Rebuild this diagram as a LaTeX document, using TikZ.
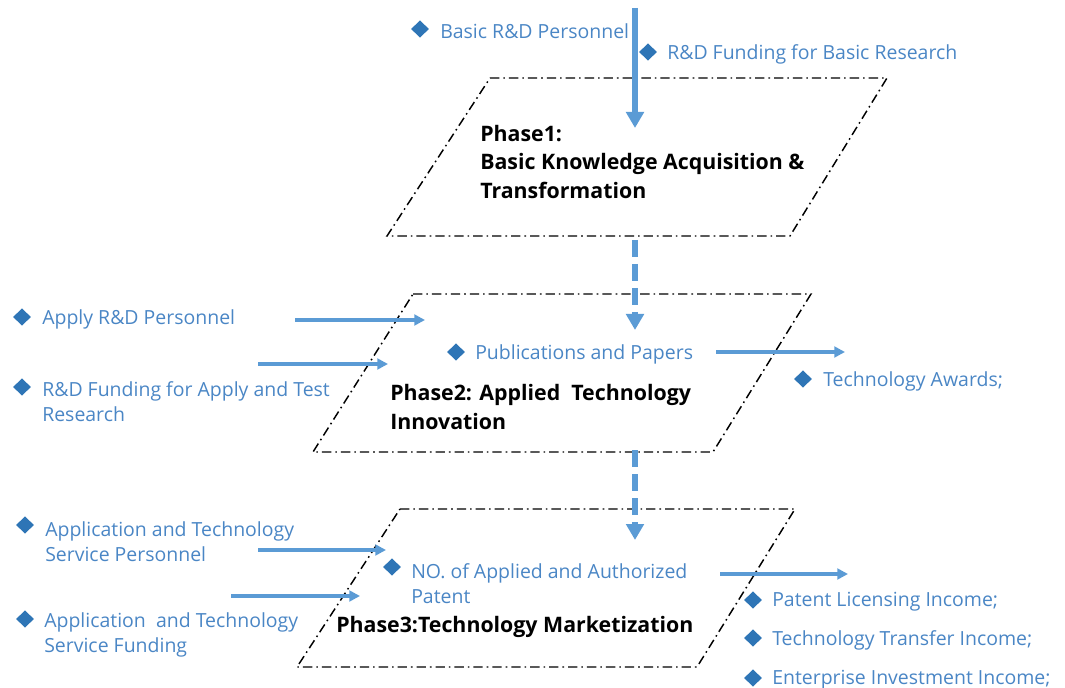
\documentclass[tikz,border=0pt]{standalone}
\usepackage{fontspec}
\setmainfont{Open Sans}
\usetikzlibrary{arrows.meta,shapes.geometric,positioning}
\definecolor{lblblue}{HTML}{4A86C5}
\definecolor{diablue}{HTML}{2E75B6}
\definecolor{arrblue}{HTML}{5B9BD5}

\tikzset{
 phase/.style={draw=black, line width=1.1pt, dash pattern=on 7pt off 3pt on 1.2pt off 3pt},
 dia/.style={shape=diamond, fill=diablue, inner sep=0pt, minimum width=13.5pt, minimum height=13pt},
 lbl/.style={anchor=west, inner sep=0pt, yshift=-1.5pt, text=lblblue, font=\fontsize{14.6}{18.75}\selectfont, align=left},
 title/.style={anchor=west, inner sep=0pt, font=\bfseries\fontsize{16}{21.4}\selectfont, align=left},
 flow/.style={arrblue, line width=2.3pt, -{Triangle[length=8pt,width=8pt]}},
 down/.style={arrblue, line width=4pt, -{Triangle[length=12pt,width=13pt]}},
 downdash/.style={down, dash pattern=on 13pt off 5pt},
}

\begin{document}
\begin{tikzpicture}[x=0.75pt,y=-0.75pt]
\useasboundingbox (0,0) rectangle (1065,688);

% the three phases
\draw[phase] (490,78) -- (887,78) -- (790,236) -- (387,236) -- cycle;
\draw[phase] (413,294) -- (811,294) -- (713,452) -- (313,452) -- cycle;
\draw[phase] (400,509) -- (795,509) -- (697,667) -- (297,667) -- cycle;

\node[title] (p1) at (480,162) {Phase1:\\Basic Knowledge Acquisition \&\\Transformation};
\node[title] (p2) at (390,407) {Phase2: Applied\ \ Technology\\Innovation};
\node[title] (p3) at (336,627) {Phase3:Technology Marketization};

% inputs and outputs
\node[dia] (d1) at (420,29) {};
\node[lbl] (l1) at (440,29) {Basic R\&D Personnel};
\node[dia] (d2) at (648,52) {};
\node[lbl] (l2) at (667,52) {R\&D Funding for Basic Research};

\node[dia] (d3) at (22,317) {};
\node[lbl] (l3) at (42,317) {Apply R\&D Personnel};
\node[dia] (d4) at (22,387) {};
\node[lbl] (l4) at (42,400) {R\&D Funding for Apply and Test\\Research};
\node[dia] (d5) at (456,352) {};
\node[lbl] (l5) at (475,352) {Publications and Papers};
\node[dia] (d6) at (803,379) {};
\node[lbl] (l6) at (823,379) {Technology Awards;};

\node[dia] (d7) at (25,525) {};
\node[lbl] (l7) at (45,539.5) {Application and Technology\\Service Personnel};
\node[dia] (d8) at (25,619) {};
\node[lbl] (l8) at (44,632.5) {Application\ \ and Technology\\Service Funding};
\node[dia] (d9) at (392,567) {};
\node[lbl] (l9) at (411,581.5) {NO. of Applied and Authorized\\Patent};

\foreach \y/\t [count=\i from 10] in {600/Patent Licensing Income;,638/Technology Transfer Income;,678/Enterprise Investment Income;}{
	\node[dia] (d\i) at (753,\y) {};
	\node[lbl] (l\i) at (772,\y) {\t};
}

% arrows
\coordinate (top) at (635,8);
\coordinate (top1) at (635,128);
\coordinate (b1) at (635,240);
\coordinate (t2) at (635,330);
\coordinate (b2) at (635,450);
\coordinate (t3) at (635,540);
\draw[down] (top) -- (top1);
\draw[downdash] (b1) -- (t2);
\draw[downdash] (b2) -- (t3);

\coordinate (a1s) at (295,320); \coordinate (a1e) at (425,320);
\coordinate (a2s) at (258,364); \coordinate (a2e) at (388,364);
\coordinate (a3s) at (716,352); \coordinate (a3e) at (845,352);
\coordinate (a4s) at (258,550); \coordinate (a4e) at (386,550);
\coordinate (a5s) at (231,596); \coordinate (a5e) at (360,596);
\coordinate (a6s) at (720,574); \coordinate (a6e) at (848,574);
\foreach \i in {1,...,6}{
	\draw[flow] (a\i s) -- (a\i e);
}
\end{tikzpicture}
\end{document}
